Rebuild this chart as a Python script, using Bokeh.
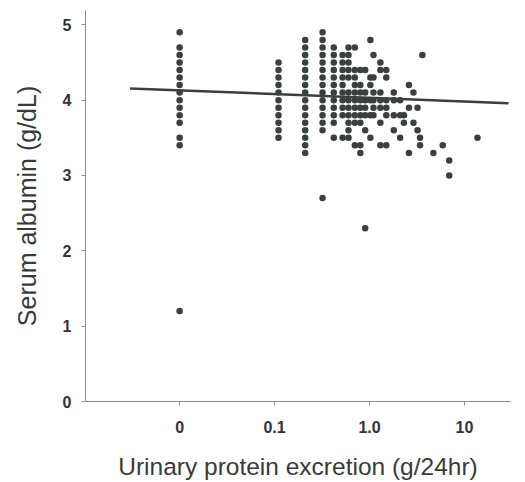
from bokeh.plotting import figure
from bokeh.models import FixedTicker, ColumnDataSource
from bokeh.embed import file_html
from bokeh.resources import INLINE

# Urinary protein excretion (g/24hr); "0" is plotted at 0.01 on the log axis
protein = (
    [0.01] * 15
    + [0.11] * 11
    + [0.21] * 16
    + [0.32] * 15
    + [0.42] * 12
    + [0.52] * 10
    + [0.6] * 12
    + [0.7] * 10
    + [0.8] * 9
    + [0.9] * 7
    + [1.02] * 6
    + [1.1] * 6
    + [1.3] * 7
    + [1.5] * 6
    + [1.8] * 4
    + [2.1] * 3
    + [2.3] * 2
    + [2.6] * 3
    + [2.9] * 2
    + [3.2] * 2
    + [3.4] * 2
    + [3.6] * 1
    + [4.7] * 1
    + [5.9] * 1
    + [6.9] * 2
    + [13.7] * 1
)

# Serum albumin (g/dL), same order as protein
albumin = (
    [4.9, 4.7, 4.6, 4.5, 4.4, 4.3, 4.2, 4.1, 4.0, 3.9, 3.8, 3.7, 3.5, 3.4, 1.2]
    + [4.5, 4.4, 4.3, 4.2, 4.1, 4.0, 3.9, 3.8, 3.7, 3.6, 3.5]
    + [4.8, 4.7, 4.6, 4.5, 4.4, 4.3, 4.2, 4.1, 4.0, 3.9, 3.8, 3.7, 3.6, 3.5, 3.4, 3.3]
    + [4.9, 4.8, 4.7, 4.6, 4.5, 4.4, 4.3, 4.2, 4.1, 4.0, 3.9, 3.8, 3.7, 3.6, 2.7]
    + [4.7, 4.6, 4.5, 4.4, 4.3, 4.2, 4.1, 4.0, 3.9, 3.8, 3.7, 3.5]
    + [4.6, 4.5, 4.4, 4.3, 4.2, 4.1, 4.0, 3.9, 3.8, 3.5]
    + [4.7, 4.6, 4.5, 4.4, 4.3, 4.1, 4.0, 3.9, 3.8, 3.7, 3.6, 3.5]
    + [4.7, 4.4, 4.3, 4.2, 4.1, 4.0, 3.9, 3.8, 3.7, 3.4]
    + [4.4, 4.2, 4.1, 4.0, 3.9, 3.8, 3.7, 3.4, 3.3]
    + [4.4, 4.1, 4.0, 3.9, 3.8, 3.6, 2.3]
    + [4.8, 4.3, 4.2, 4.0, 3.8, 3.5]
    + [4.6, 4.3, 4.1, 4.0, 3.9, 3.8]
    + [4.5, 4.4, 4.1, 4.0, 3.9, 3.7, 3.4]
    + [4.4, 4.3, 4.0, 3.9, 3.8, 3.4]
    + [4.1, 4.0, 3.8, 3.6]
    + [4.0, 3.8, 3.5]
    + [3.8, 3.7]
    + [4.2, 3.9, 3.3]
    + [4.1, 3.7]
    + [3.9, 3.6]
    + [3.5, 3.4]
    + [4.6]
    + [3.3]
    + [3.4]
    + [3.2, 3.0]
    + [3.5]
)

# Regression line end points
fit_x = [0.003, 29.0]
fit_y = [4.155, 3.96]

x_ticks = [0.01, 0.1, 1.0, 10.0]
x_tick_labels = ["0", "0.1", "1.0", "10"]
y_ticks = [0, 1, 2, 3, 4, 5]

p = figure(width=525, height=482, x_axis_type="log",
           x_range=(0.00102, 30.5), y_range=(0, 5.19),
           output_backend="svg", toolbar_location=None)
p.min_border_left = 85
p.min_border_right = 15
p.min_border_top = 10
p.min_border_bottom = 81
p.outline_line_color = None
p.xgrid.visible = False
p.ygrid.visible = False
p.background_fill_color = "white"
p.border_fill_color = "white"

dot = "#3a3f3f"
p.line(fit_x, fit_y, line_color=dot, line_width=2.5)
src = ColumnDataSource(dict(x=protein, y=albumin))
p.scatter("x", "y", source=src, size=6.5, fill_color=dot, line_color=None)

for ax in (p.xaxis[0], p.yaxis[0]):
    ax.axis_line_color = "#8a8a8a"
    ax.axis_line_width = 1
    ax.major_tick_line_color = "#8a8a8a"
    ax.major_tick_in = 0
    ax.major_tick_out = 4
    ax.minor_tick_line_color = None
    ax.major_label_text_font = "Liberation Sans"
    ax.major_label_text_font_style = "bold"
    ax.major_label_text_font_size = "16px"
    ax.major_label_text_color = "#333333"
    ax.axis_label_text_font = "Liberation Sans"
    ax.axis_label_text_font_style = "normal"
    ax.axis_label_text_color = "#3a3a3a"

p.xaxis.axis_label_text_font_size = "24.5px"
p.yaxis.axis_label_text_font_size = "25px"

p.xaxis.ticker = FixedTicker(ticks=x_ticks)
p.xaxis.major_label_overrides = {t: l for t, l in zip(x_ticks, x_tick_labels)}
p.xaxis.major_label_standoff = 15
p.xaxis.axis_label = "Urinary protein excretion (g/24hr)"
p.xaxis.axis_label_standoff = 17

p.yaxis.ticker = FixedTicker(ticks=y_ticks)
p.yaxis.major_label_standoff = 10
p.yaxis.axis_label = "Serum albumin (g/dL)"
p.yaxis.axis_label_standoff = 19

open("out.html", "w").write(file_html(p, INLINE))
